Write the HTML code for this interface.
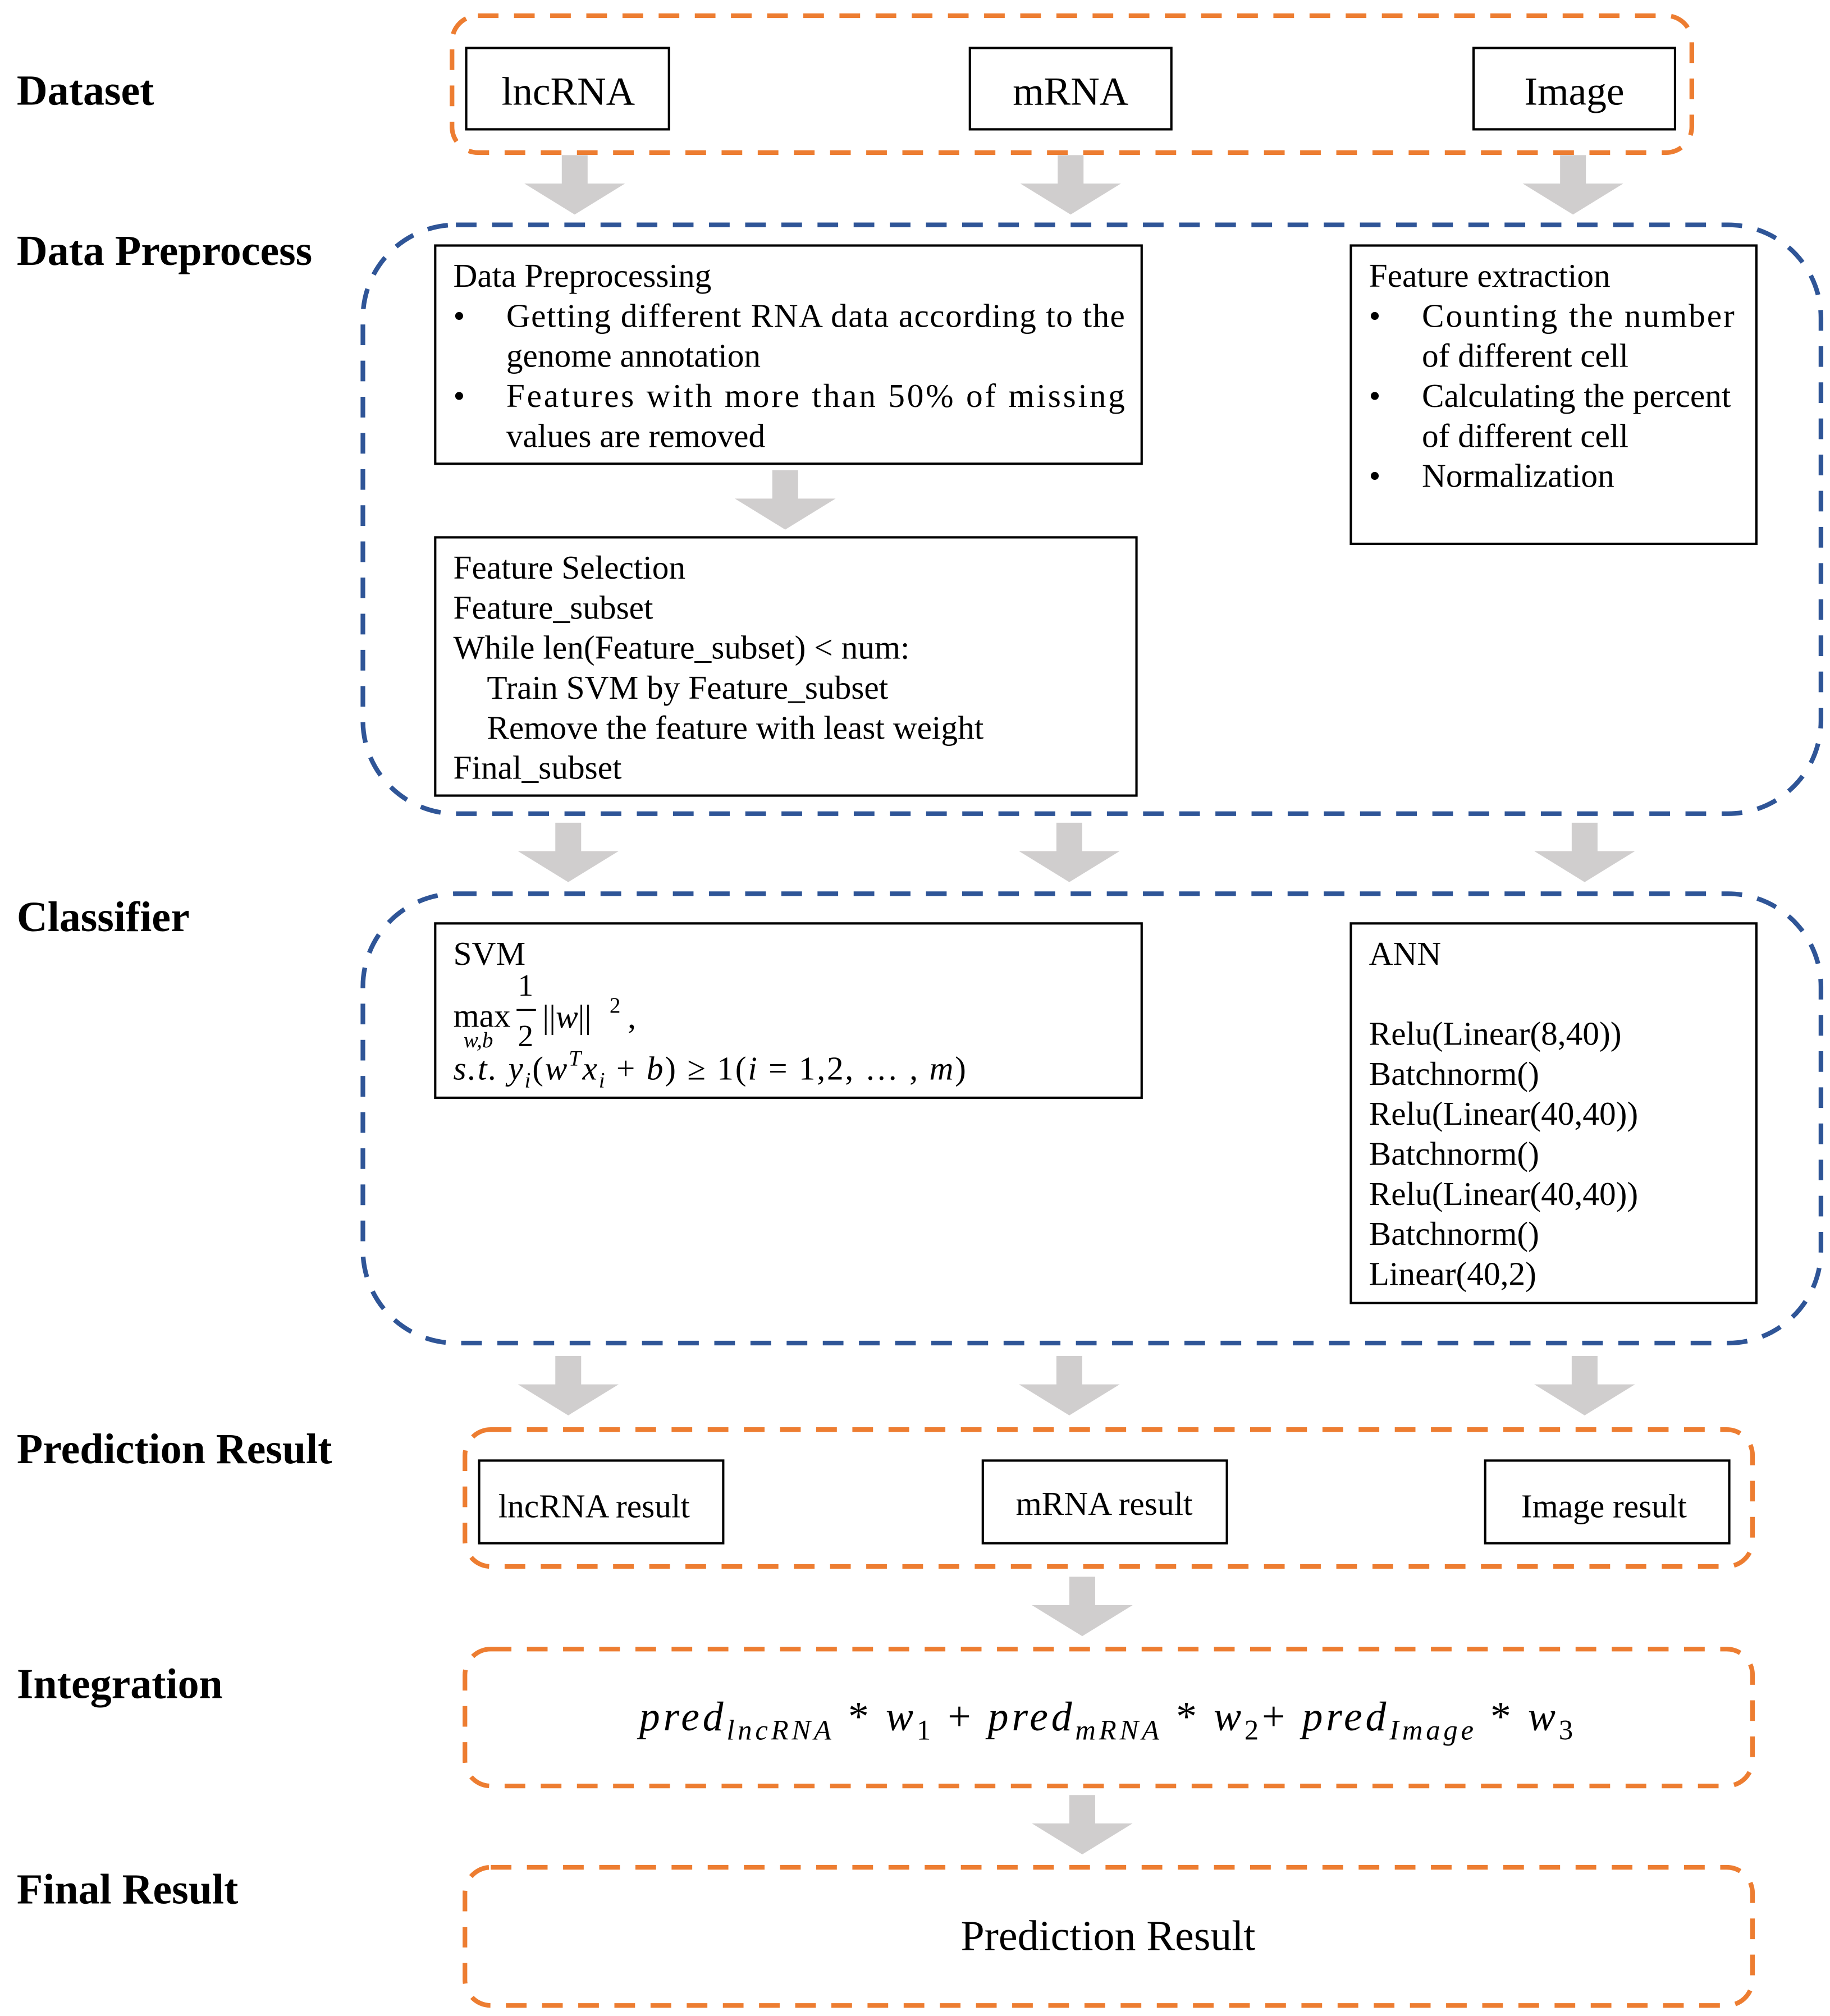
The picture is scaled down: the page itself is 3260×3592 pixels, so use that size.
<!DOCTYPE html>
<html><head><meta charset="utf-8"><style>
html,body{margin:0;padding:0;background:#fff;}
svg{display:block;}
text{font-family:"Liberation Serif",serif;fill:#000;}
.lab{font-weight:bold;font-size:33px;}
.bx{font-size:25.8px;}
.it{font-style:italic;}
</style></head><body>
<svg width="3260" height="3592" viewBox="0 0 1417 1561" xmlns="http://www.w3.org/2000/svg">
<defs>
<g id="ar"><polygon points="-10,0 10,0 10,22 39,22 0,46 -39,22 -10,22" fill="#d0cece"/></g>
</defs>
<rect width="1417" height="1561" fill="#fff"/>
<g fill="none" stroke-width="3.6" stroke-dasharray="16,12">
<rect x="350" y="12" width="960" height="106" rx="20" stroke="#ed7d31"/>
<rect x="281" y="174" width="1129" height="456" rx="72" stroke="#2f5597"/>
<rect x="281" y="692" width="1129" height="348" rx="72" stroke="#2f5597"/>
<rect x="360" y="1107" width="997" height="106" rx="20" stroke="#ed7d31"/>
<rect x="360" y="1277" width="997" height="106" rx="20" stroke="#ed7d31"/>
<rect x="360" y="1446" width="997" height="107" rx="20" stroke="#ed7d31"/>
</g>
<use href="#ar" x="445" y="120"/><use href="#ar" x="829" y="120"/><use href="#ar" x="1218" y="120"/>
<use href="#ar" x="608" y="364"/>
<use href="#ar" x="440" y="637"/><use href="#ar" x="828" y="637"/><use href="#ar" x="1227" y="637"/>
<use href="#ar" x="440" y="1050"/><use href="#ar" x="828" y="1050"/><use href="#ar" x="1227" y="1050"/>
<use href="#ar" x="838" y="1221"/>
<use href="#ar" x="838" y="1390"/>
<text class="lab" x="13" y="81">Dataset</text>
<text class="lab" x="13" y="205">Data Preprocess</text>
<text class="lab" x="13" y="721">Classifier</text>
<text class="lab" x="13" y="1133">Prediction Result</text>
<text class="lab" x="13" y="1315">Integration</text>
<text class="lab" x="13" y="1474">Final Result</text>
<g fill="#fff" stroke="#000" stroke-width="1.8">
<rect x="361" y="37" width="157" height="63"/>
<rect x="751" y="37" width="156" height="63"/>
<rect x="1141" y="37" width="156" height="63"/>
<rect x="337" y="190" width="547" height="169"/>
<rect x="337" y="416" width="543" height="200"/>
<rect x="1046" y="190" width="314" height="231"/>
<rect x="337" y="715" width="547" height="135"/>
<rect x="1046" y="715" width="314" height="294"/>
<rect x="371" y="1131" width="189" height="64"/>
<rect x="761" y="1131" width="189" height="64"/>
<rect x="1150" y="1131" width="189" height="64"/>
</g>
<g text-anchor="middle">
<text x="440" y="81" style="font-size:31px">lncRNA</text>
<text x="829" y="81" style="font-size:31px">mRNA</text>
<text x="1219" y="81" style="font-size:31px">Image</text>
</g>
<g class="bx">
<text x="351" y="222">Data Preprocessing</text>
<text x="351" y="253">•</text><text x="392" y="253" textLength="479" lengthAdjust="spacing">Getting different RNA data according to the</text>
<text x="392" y="284">genome annotation</text>
<text x="351" y="315">•</text><text x="392" y="315" textLength="479" lengthAdjust="spacing">Features with more than 50% of missing</text>
<text x="392" y="346">values are removed</text>

<text x="351" y="448">Feature Selection</text>
<text x="351" y="479">Feature_subset</text>
<text x="351" y="510">While len(Feature_subset) &lt; num:</text>
<text x="377" y="541">Train SVM by Feature_subset</text>
<text x="377" y="572">Remove the feature with least weight</text>
<text x="351" y="603">Final_subset</text>

<text x="1060" y="222">Feature extraction</text>
<text x="1060" y="253">•</text><text x="1101" y="253" textLength="242" lengthAdjust="spacing">Counting the number</text>
<text x="1101" y="284">of different cell</text>
<text x="1060" y="315">•</text><text x="1101" y="315">Calculating the percent</text>
<text x="1101" y="346">of different cell</text>
<text x="1060" y="377">•</text><text x="1101" y="377">Normalization</text>

<text x="351" y="747">SVM</text>
<text x="351" y="795">max</text>
<text x="359" y="811" class="it" style="font-size:17px">w,b</text>
<text x="401" y="771" style="font-size:24px">1</text>
<line x1="400" y1="782" x2="415" y2="782" stroke="#000" stroke-width="1.5"/>
<text x="401" y="810" style="font-size:24px">2</text>
<text x="420" y="796">||<tspan class="it">w</tspan>||</text>
<text x="472" y="784" style="font-size:17px">2</text>
<text x="486" y="796">,</text>
<text x="351" y="836" class="it" textLength="397" lengthAdjust="spacing">s.t. y<tspan style="font-size:17px" dy="6">i</tspan><tspan dy="-6" style="font-style:normal">(</tspan>w<tspan style="font-size:17px" dy="-11">T</tspan><tspan dy="11">x</tspan><tspan style="font-size:17px" dy="6">i</tspan><tspan dy="-6" style="font-style:normal"> + </tspan>b<tspan style="font-style:normal">) ≥ 1(</tspan>i<tspan style="font-style:normal"> = 1,2, … , </tspan>m<tspan style="font-style:normal">)</tspan></text>

<text x="1060" y="747">ANN</text>
<text x="1060" y="809">Relu(Linear(8,40))</text>
<text x="1060" y="840">Batchnorm()</text>
<text x="1060" y="871">Relu(Linear(40,40))</text>
<text x="1060" y="902">Batchnorm()</text>
<text x="1060" y="933">Relu(Linear(40,40))</text>
<text x="1060" y="964">Batchnorm()</text>
<text x="1060" y="995">Linear(40,2)</text>

<text x="460" y="1175" text-anchor="middle">lncRNA result</text>
<text x="855" y="1173" text-anchor="middle">mRNA result</text>
<text x="1242" y="1175" text-anchor="middle">Image result</text>
</g>
<text x="495" y="1340" class="it" style="font-size:32px" textLength="723" lengthAdjust="spacing">pred<tspan style="font-size:22px" dy="7">lncRNA</tspan><tspan dy="-7" style="font-style:normal"> * </tspan>w<tspan style="font-size:22px;font-style:normal" dy="7">1</tspan><tspan dy="-7" style="font-style:normal"> + </tspan>pred<tspan style="font-size:22px" dy="7">mRNA</tspan><tspan dy="-7" style="font-style:normal"> * </tspan>w<tspan style="font-size:22px;font-style:normal" dy="7">2</tspan><tspan dy="-7" style="font-style:normal">+ </tspan>pred<tspan style="font-size:22px" dy="7">Image</tspan><tspan dy="-7" style="font-style:normal"> * </tspan>w<tspan style="font-size:22px;font-style:normal" dy="7">3</tspan></text>
<text x="858" y="1510" text-anchor="middle" style="font-size:33px">Prediction Result</text>
</svg>
</body></html>
